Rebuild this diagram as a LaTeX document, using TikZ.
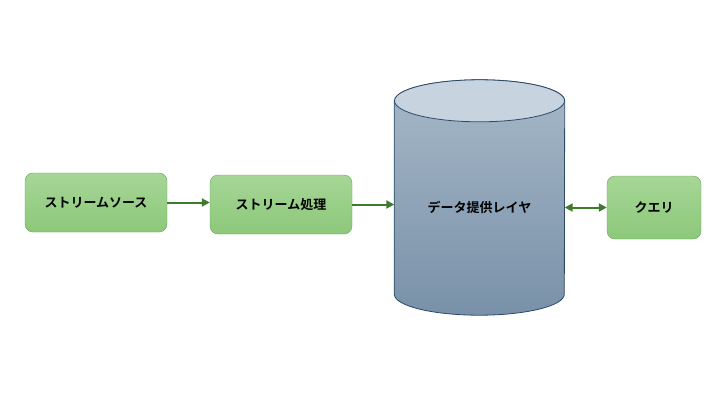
\documentclass[tikz,border=0pt]{standalone}
\usepackage{fontspec}
\usepackage{tikz}
\usetikzlibrary{arrows.meta}
\newfontfamily\jpfont{Noto Sans CJK JP}[BoldFont={Noto Sans CJK JP Bold}]
\definecolor{boxtop}{HTML}{A6D696}
\definecolor{boxbot}{HTML}{8CC87A}
\definecolor{boxline}{HTML}{6AA55A}
\definecolor{flowgreen}{HTML}{3F7B2C}
\definecolor{dbtop}{HTML}{C7D4DF}
\definecolor{dbupper}{HTML}{A6B8C8}
\definecolor{dblower}{HTML}{7991A8}
\definecolor{dbline}{HTML}{2C4A66}
\tikzset{
	box/.style = {rectangle, rounded corners = 8pt, draw = boxline, top color = boxtop, bottom color = boxbot, minimum width = 142pt, minimum height = 59pt, font = \jpfont\bfseries\fontsize{13}{15}\selectfont},
	flow/.style = {draw = flowgreen, line width = 2pt, -{Triangle[length = 8pt, width = 8pt]}},
}
\begin{document}
\begin{tikzpicture}[x = 1pt, y = 1pt]
	\useasboundingbox (0,0) rectangle (720,-405);
	\node[box] (src) at (96,-202.5) {ストリームソース};
	\node[box] (proc) at (281,-204.5) {ストリーム処理};
	\node[box, minimum width = 94pt, minimum height = 63pt] (query) at (654,-207.5) {クエリ};
	\node[minimum width = 170pt, minimum height = 193pt, inner sep = 0pt] (db) at (479.5,-197.5) {};
	\path[top color = dbupper, bottom color = dblower, draw = dbline, line width = 0.8pt] (db.north west) -- (db.south west) arc[start angle = 180, end angle = 360, x radius = 85, y radius = 21] -- (db.north east) arc[start angle = 0, end angle = 180, x radius = 85, y radius = 21] -- cycle;
	\draw[dbline, fill = dbtop, line width = 0.8pt] (db.north) ellipse[x radius = 85, y radius = 21];
	\node[font = \jpfont\bfseries\fontsize{13}{15}\selectfont] (dblabel) at ([yshift = -10pt]db.center) {データ提供レイヤ};
	\draw[flow] (src.east) -- (src.east -| proc.west);
	\draw[flow] (proc.east) -- (proc.east -| db.west);
	\draw[flow, {Triangle[length = 8pt, width = 8pt]}-{Triangle[length = 8pt, width = 8pt]}] (query.west -| db.east) -- (query.west);
\end{tikzpicture}
\end{document}
